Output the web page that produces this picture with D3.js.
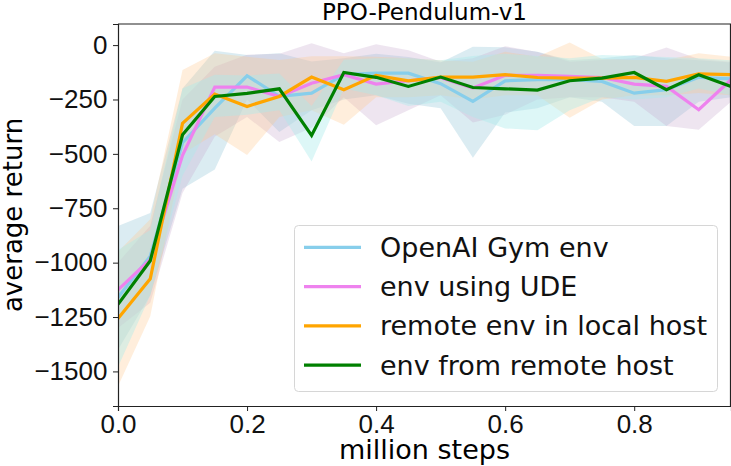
<!DOCTYPE html>
<html>
<head>
<meta charset="utf-8">
<script src="https://cdn.jsdelivr.net/npm/d3@7"></script>
<style>
  body { margin: 0; background: #fff; }
  svg { font-family: "DejaVu Sans", sans-serif; }
  .axis path, .axis line { stroke: #222; }
  .axis text { fill: #111; }
</style>
</head>
<body>
<svg id="chart" width="731" height="466"></svg>
<script>
// steps in million
var steps = [0, 0.05, 0.1, 0.15, 0.2, 0.25, 0.3, 0.35, 0.4, 0.45, 0.5, 0.55, 0.6, 0.65, 0.7, 0.75, 0.8, 0.85, 0.9, 0.95];

var seriesNames = ['OpenAI Gym env', 'env using UDE', 'remote env in local host', 'env from remote host'];

// mean returns
var gymMean    = [-1160, -970, -449, -290, -141, -236, -221, -136, -129, -129, -177, -259, -164, -159, -159, -167, -221, -205, -148, -155];
var udeMean    = [-1125, -985, -507, -193, -193, -236, -175, -136, -179, -164, -150, -197, -139, -139, -144, -149, -179, -190, -297, -159];
var localMean  = [-1257, -1074, -360, -225, -282, -236, -147, -205, -139, -164, -147, -147, -136, -149, -152, -152, -148, -167, -132, -136];
var remoteMean = [-1192, -991, -412, -236, -222, -201, -415, -126, -148, -190, -147, -195, -201, -207, -164, -152, -126, -205, -136, -190];

// shaded ranges (upper / lower)
var gymUpper    = [-832, -772, -200, -26, -46, -38, -75, -60, -40, -55, -80, -8, -10, -30, -70, -60, -45, -60, -70, -80];
var gymLower    = [-1400, -1150, -660, -572, -250, -400, -300, -250, -230, -270, -290, -518, -310, -290, -240, -260, -372, -372, -260, -240];
var udeUpper    = [-1000, -830, -250, -100, -44, -40, 8, -37, 4, -24, -76, -60, -5, -32, -77, -69, -61, -11, -64, -77];
var udeLower    = [-1300, -1184, -680, -420, -330, -446, -380, -240, -368, -300, -230, -356, -320, -250, -240, -240, -260, -372, -389, -260];
var localUpper  = [-950, -800, -115, -38, -54, -69, -51, -51, -54, -61, -70, -77, -31, -54, 12, -64, -69, -69, -38, -54];
var localLower  = [-1568, -1246, -500, -410, -505, -330, -300, -366, -240, -240, -230, -250, -230, -230, -334, -250, -230, -230, -220, -230];
var remoteUpper = [-942, -850, -200, -136, -140, -130, -280, -67, -60, -60, -70, -50, -40, -50, -60, -45, -50, -55, -60, -70];
var remoteLower = [-1480, -1150, -600, -330, -320, -300, -535, -200, -230, -280, -260, -330, -383, -391, -300, -240, -250, -240, -200, -230];

var xTicks = [0, 0.2, 0.4, 0.6, 0.8];
var yTicks = [0, -250, -500, -750, -1000, -1250, -1500];

var lineColors = ['#87ceeb', '#ee82ee', '#ffa500', '#008000'];
var bandColors = ['rgba(160,205,222,0.38)', 'rgba(200,170,205,0.3)', 'rgba(255,200,140,0.3)', 'rgba(170,235,235,0.4)'];

var means  = [gymMean, udeMean, localMean, remoteMean];
var uppers = [gymUpper, udeUpper, localUpper, remoteUpper];
var lowers = [gymLower, udeLower, localLower, remoteLower];

var mLeft = 118, mRight = 731, mTop = 24, mBottom = 406;

var svg = d3.select('#chart');

var x = d3.scaleLinear().domain([0, 0.95]).range([mLeft, mRight]);
var y = d3.scaleLinear().domain([-1659, 97]).range([mBottom, mTop]);

svg.append('defs').append('clipPath')
	.attr('id', 'plotclip')
	.append('rect')
	.attr('x', mLeft).attr('y', mTop)
	.attr('width', mRight - mLeft).attr('height', mBottom - mTop);

var plot = svg.append('g').attr('clip-path', 'url(#plotclip)');

var area = d3.area()
	.x(function(d) { return x(d.s); })
	.y0(function(d) { return y(d.lo); })
	.y1(function(d) { return y(d.hi); });

var line = d3.line()
	.x(function(d) { return x(d.s); })
	.y(function(d) { return y(d.v); });

// bands first, then lines on top
means.forEach(function(m, k) {
	var pts = steps.map(function(s, i) { return { s: s, lo: lowers[k][i], hi: uppers[k][i] }; });
	plot.append('path')
		.attr('d', area(pts))
		.attr('fill', bandColors[k])
		.attr('stroke', 'none');
});

means.forEach(function(m, k) {
	var pts = steps.map(function(s, i) { return { s: s, v: m[i] }; });
	plot.append('path')
		.attr('d', line(pts))
		.attr('fill', 'none')
		.attr('stroke', lineColors[k])
		.attr('stroke-width', 3.2)
		.attr('stroke-linejoin', 'miter');
});

// axes
var xAxis = svg.append('g')
	.attr('class', 'axis')
	.attr('transform', 'translate(0,' + mBottom + ')')
	.call(d3.axisBottom(x).tickValues(xTicks).tickFormat(d3.format('.1f')).tickSizeOuter(0).tickSize(5));
xAxis.selectAll('text').attr('font-size', 26).attr('dy', '0.72em');
xAxis.select('.domain').attr('stroke-width', 1.2);

var yAxis = svg.append('g')
	.attr('class', 'axis')
	.attr('transform', 'translate(' + mLeft + ',0)')
	.call(d3.axisLeft(y).tickValues(yTicks).tickFormat(d3.format('d')).tickSizeOuter(0).tickSize(5));
yAxis.selectAll('text').attr('font-size', 26).attr('dx', '-0.1em');
yAxis.select('.domain').attr('stroke-width', 1.2);

// top and right spines
svg.append('line')
	.attr('x1', mLeft).attr('x2', mRight)
	.attr('y1', mTop).attr('y2', mTop)
	.attr('stroke', '#222').attr('stroke-width', 1.2);
svg.append('line')
	.attr('x1', mRight - 0.5).attr('x2', mRight - 0.5)
	.attr('y1', mTop).attr('y2', mBottom)
	.attr('stroke', '#222').attr('stroke-width', 1.2);

// title and labels
svg.append('text')
	.attr('x', (mLeft + mRight) / 2).attr('y', 20)
	.attr('text-anchor', 'middle')
	.attr('font-size', 23)
	.text('PPO-Pendulum-v1');

svg.append('text')
	.attr('x', (mLeft + mRight) / 2).attr('y', 459)
	.attr('text-anchor', 'middle')
	.attr('font-size', 27)
	.text('million steps');

svg.append('text')
	.attr('transform', 'translate(22,' + ((mTop + mBottom) / 2) + ') rotate(-90)')
	.attr('text-anchor', 'middle')
	.attr('font-size', 26)
	.text('average return');

// legend
var lg = svg.append('g');
lg.append('rect')
	.attr('x', 294.5).attr('y', 225.5)
	.attr('width', 423).attr('height', 166)
	.attr('rx', 4)
	.attr('fill', 'rgba(255,255,255,0.8)')
	.attr('stroke', '#d6d6d6');

var items = lg.selectAll('g.item')
	.data(seriesNames)
	.enter()
	.append('g')
	.attr('class', 'item')
	.attr('transform', function(d, i) { return 'translate(0,' + (247.3 + i * 39.3) + ')'; });

items.append('line')
	.attr('x1', 304).attr('x2', 361)
	.attr('y1', 0).attr('y2', 0)
	.attr('stroke', function(d, i) { return lineColors[i]; })
	.attr('stroke-width', 3.2);

items.append('text')
	.attr('x', 380)
	.attr('y', 9.5)
	.attr('font-size', 27)
	.attr('fill', '#111')
	.text(function(d) { return d; });
</script>
</body>
</html>
